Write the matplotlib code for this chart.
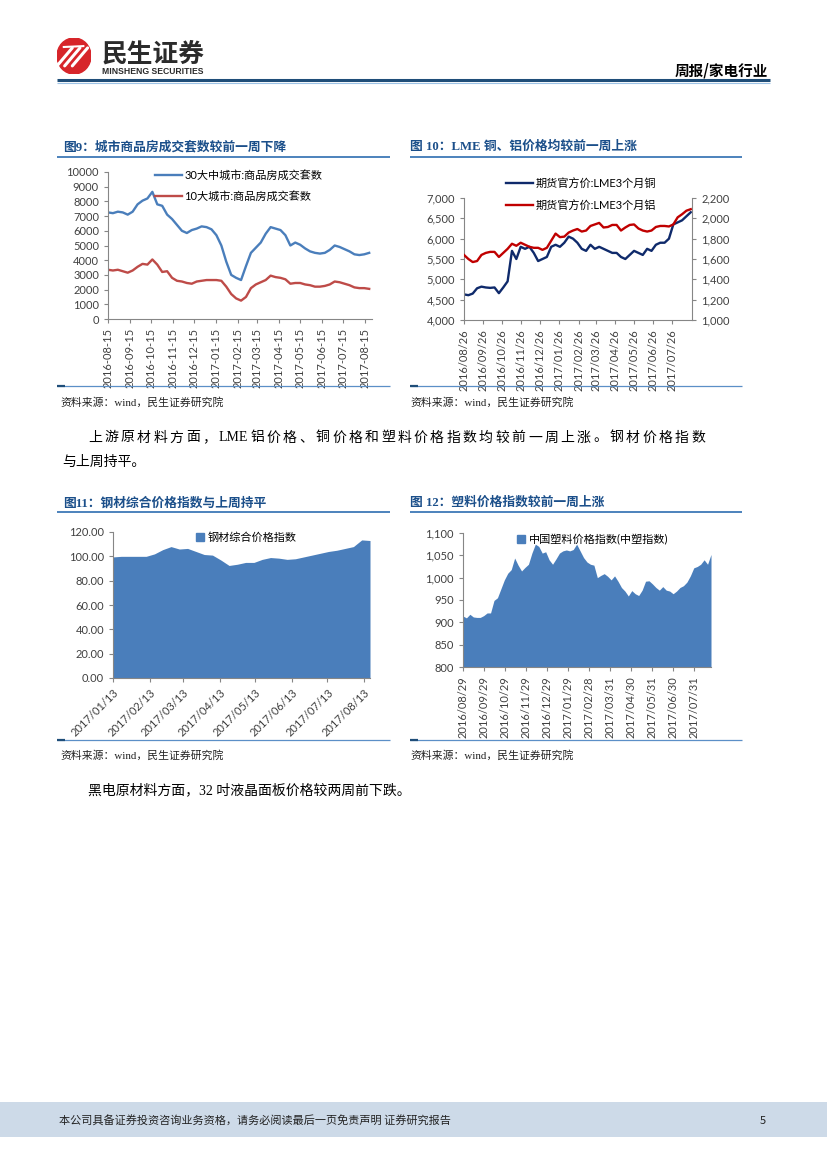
import matplotlib
matplotlib.use("Agg")
import matplotlib.pyplot as plt
import pandas as pd
from matplotlib.lines import Line2D
from matplotlib.patches import Rectangle, Ellipse, Patch
from matplotlib.ticker import FuncFormatter

# --- data: fig 9, weekly deals (sets) ---
city_dates = pd.date_range("2016-08-15", periods=54, freq="7D")
city30 = [7250, 7200, 7300, 7250, 7100, 7300, 7800, 8050, 8200, 8650,
          7800, 7700, 7100, 6800, 6400, 6000, 5850, 6050, 6150, 6300,
          6250, 6100, 5700, 5000, 3900, 3000, 2800, 2650, 3600, 4500,
          4850, 5200, 5800, 6250, 6150, 6050, 5700, 5000, 5200, 5050,
          4800, 4600, 4500, 4450, 4500, 4700, 5000, 4900, 4750, 4600,
          4400, 4350, 4400, 4500]
city10 = [3350, 3300, 3350, 3250, 3150, 3300, 3550, 3750, 3700, 4050,
          3700, 3200, 3250, 2800, 2600, 2550, 2450, 2400, 2550, 2600,
          2650, 2650, 2650, 2600, 2200, 1700, 1400, 1250, 1500, 2100,
          2350, 2500, 2650, 2950, 2850, 2800, 2700, 2400, 2450, 2450,
          2350, 2300, 2200, 2200, 2250, 2350, 2550, 2500, 2400, 2300,
          2150, 2100, 2100, 2050]
city_ticks = ["2016-08-15", "2016-09-15", "2016-10-15", "2016-11-15", "2016-12-15",
              "2017-01-15", "2017-02-15", "2017-03-15", "2017-04-15", "2017-05-15",
              "2017-06-15", "2017-07-15", "2017-08-15"]

# --- data: fig 10, LME copper / aluminium ---
lme_dates = pd.date_range("2016-08-26", periods=53, freq="7D")
copper = [4630, 4610, 4650, 4780, 4820, 4800, 4790, 4800, 4660, 4800,
          4950, 5700, 5500, 5800, 5750, 5800, 5650, 5450, 5500, 5550,
          5800, 5850, 5800, 5900, 6050, 6000, 5900, 5750, 5700, 5850,
          5750, 5800, 5750, 5700, 5650, 5650, 5550, 5500, 5600, 5700,
          5650, 5600, 5750, 5700, 5850, 5900, 5900, 6000, 6350, 6400,
          6450, 6550, 6650]
aluminium = [1640, 1600, 1570, 1580, 1640, 1660, 1670, 1670, 1620, 1660,
             1700, 1750, 1730, 1760, 1740, 1720, 1710, 1710, 1690, 1710,
             1780, 1850, 1815, 1820, 1860, 1880, 1895, 1870, 1880, 1925,
             1940, 1955, 1910, 1915, 1935, 1935, 1880, 1910, 1935, 1940,
             1900, 1880, 1870, 1880, 1915, 1925, 1925, 1920, 1940, 2010,
             2040, 2075, 2090]
lme_ticks = ["2016/08/26", "2016/09/26", "2016/10/26", "2016/11/26", "2016/12/26",
             "2017/01/26", "2017/02/26", "2017/03/26", "2017/04/26", "2017/05/26",
             "2017/06/26", "2017/07/26"]

# --- data: fig 11, steel index ---
steel_dates = pd.date_range("2017-01-13", periods=32, freq="7D")
steel = [99.5, 100, 100, 100, 100, 102, 105.5, 108, 106, 106.5,
         104, 101.5, 101, 97, 92.5, 93.5, 95, 95, 97.5, 99,
         98.5, 97.5, 98, 99.5, 101, 102.5, 104, 105, 106.5, 108,
         113.5, 113]
steel_ticks = ["2017/01/13", "2017/02/13", "2017/03/13", "2017/04/13",
               "2017/05/13", "2017/06/13", "2017/07/13", "2017/08/13"]

# --- data: fig 12, plastic index ---
plastic_dates = pd.date_range("2016-08-29", periods=73, freq="5D")
plastic = [914, 910, 918, 912, 911, 911, 915, 921, 921, 949,
           955, 975, 995, 1010, 1018, 1044, 1028, 1015, 1023, 1030,
           1055, 1075, 1070, 1055, 1058, 1040, 1030, 1042, 1055, 1060,
           1062, 1060, 1063, 1075, 1060, 1045, 1035, 1030, 1028, 1000,
           1005, 1009, 1003, 995, 1004, 992, 978, 970, 959, 971,
           964, 960, 972, 992, 993, 986, 978, 972, 980, 972,
           970, 964, 970, 978, 982, 990, 1004, 1022, 1025, 1030,
           1040, 1030, 1052]
plastic_ticks = ["2016/08/29", "2016/09/29", "2016/10/29", "2016/11/29", "2016/12/29",
                 "2017/01/29", "2017/02/28", "2017/03/31", "2017/04/30", "2017/05/31",
                 "2017/06/30", "2017/07/31"]

# --- page text ---
para1_tokens = ["上", "游", "原", "材", "料", "方", "面", "，", "LME", "铝", "价", "格", "、",
                "铜", "价", "格", "和", "塑", "料", "价", "格", "指", "数", "均", "较", "前",
                "一", "周", "上", "涨", "。", "钢", "材", "价", "格", "指", "数"]
para1_tail = "与上周持平。"
para2 = "黑电原材料方面，32 吋液晶面板价格较两周前下跌。"

W, H = 827, 1169
CJK = ["Noto Sans CJK SC", "DejaVu Sans"]
SERIF = ["Liberation Serif", "Noto Sans CJK SC"]
CHART = ["Lato", "Noto Sans CJK SC"]
TITLE_C = "#1B4F8A"
LINE_C = "#2E6DB0"
AXIS_C = "#868686"
TICK_C = "#404040"
AREA_C = "#4A7EBB"


def fx(x):
    return x / W


def fy(y):
    return 1 - y / H


def box(x0, y0, x1, y1):
    return [fx(x0), fy(y1), (x1 - x0) / W, (y1 - y0) / H]


def hline(fig, x0, x1, y, color, lw):
    fig.add_artist(Line2D([fx(x0), fx(x1)], [fy(y), fy(y)], transform=fig.transFigure,
                          color=color, lw=lw, solid_capstyle="butt"))


def style_axes(ax):
    for s in ["top", "right"]:
        ax.spines[s].set_visible(False)
    for s in ["left", "bottom"]:
        ax.spines[s].set_color(AXIS_C)
        ax.spines[s].set_linewidth(0.8)
    ax.tick_params(colors=AXIS_C, labelcolor=TICK_C, labelsize=8, length=3, width=0.8)
    for lab in ax.get_xticklabels() + ax.get_yticklabels():
        lab.set_family(CHART)


def justify(fig, tokens, x0, x1, y, size):
    # spread tokens evenly across the line like a justified paragraph
    r = fig.canvas.get_renderer()
    arts = [fig.text(0, fy(y), t, family=SERIF, fontsize=size, va="center", ha="left")
            for t in tokens]
    widths = [a.get_window_extent(r).width for a in arts]
    gap = (x1 - x0 - sum(widths)) / (len(tokens) - 1)
    x = x0
    for a, w in zip(arts, widths):
        a.set_x(fx(x))
        x += w + gap


fig = plt.figure(figsize=(W / 100, H / 100), dpi=100)

# --- header ---
logo = fig.add_axes(box(57, 38, 91, 74))
logo.set_xlim(-1, 1)
logo.set_ylim(-1, 1)
logo.axis("off")
logo.add_patch(Ellipse((0, 0), 2, 2, color="#D7252A"))
for dx in [-0.45, 0.0, 0.45]:
    logo.plot([-0.55 + dx, 0.35 + dx], [-0.55, 0.45], color="white", lw=2.2,
              solid_capstyle="round")
logo.plot([-0.6, 0.55], [0.5, 0.55], color="white", lw=1.5)
fig.text(fx(102), fy(54), "民生证券", family=CJK, fontsize=18.5, weight="bold",
         color="#2B2B2B", va="center", ha="left")
fig.text(fx(102), fy(71), "MINSHENG SECURITIES", family=["Liberation Sans"], fontsize=6.2,
         weight="bold", color="#2B2B2B", va="center", ha="left")
fig.text(fx(768), fy(70), "周报/家电行业", family=CJK, fontsize=10.5, weight="bold",
         color="black", va="center", ha="right")
hline(fig, 57, 770, 80, "#1F4E79", 2.2)
hline(fig, 57, 770, 82.5, "#9DC3E6", 0.8)

# --- panel frames ---
for (x0, x1) in [(57, 390), (410, 742)]:
    for y in [157, 512]:
        hline(fig, x0, x1, y, LINE_C, 1.2)
    for y in [386, 740]:
        hline(fig, x0, x1, y, "#5B8FC7", 0.9)
        hline(fig, x0, x0 + 8, y, "#1F4E79", 1.6)

titles = [(63, 147, "图9：城市商品房成交套数较前一周下降"),
          (410, 147, "图 10：LME 铜、铝价格均较前一周上涨"),
          (63, 503, "图11：钢材综合价格指数与上周持平"),
          (410, 503, "图 12：塑料价格指数较前一周上涨")]
for x, y, t in titles:
    fig.text(fx(x), fy(y), t, family=SERIF, fontsize=9.2, weight="bold",
             color=TITLE_C, va="center", ha="left")

for x, y in [(60, 402), (410, 402), (60, 755), (410, 755)]:
    fig.text(fx(x), fy(y), "资料来源：wind，民生证券研究院", family=SERIF, fontsize=7.8,
             color="#222222", va="center", ha="left")

# --- body text ---
justify(fig, para1_tokens, 88, 705, 438, 10)
fig.text(fx(62), fy(462), para1_tail, family=SERIF, fontsize=10, color="black",
         va="center", ha="left")
fig.text(fx(88), fy(790), para2, family=SERIF, fontsize=10, color="black",
         va="center", ha="left")

# --- footer ---
fig.add_artist(Rectangle((0, fy(1137)), 1, 35 / H, transform=fig.transFigure,
                         color="#CDDAE8", lw=0))
fig.text(fx(59), fy(1121), "本公司具备证券投资咨询业务资格，请务必阅读最后一页免责声明 证券研究报告",
         family=CJK, fontsize=8, color="#222222", va="center", ha="left")
fig.text(fx(763), fy(1121), "5", family=CJK, fontsize=8, color="#222222",
         va="center", ha="center")

# --- fig 9 ---
ax1 = fig.add_axes(box(108, 172, 372, 319))
ax1.plot(city_dates, city30, color="#4A7EBB", lw=1.7, label="30大中城市:商品房成交套数")
ax1.plot(city_dates, city10, color="#BE4B48", lw=1.7, label="10大城市:商品房成交套数")
ax1.set_ylim(0, 10000)
ax1.set_yticks(range(0, 10001, 1000))
ax1.set_xlim(pd.Timestamp("2016-08-15"), pd.Timestamp("2017-08-25"))
ax1.set_xticks(pd.to_datetime(city_ticks))
ax1.set_xticklabels(city_ticks, rotation=90)
style_axes(ax1)
ax1.legend(loc="upper left", bbox_to_anchor=(fx(155), fy(170)), bbox_transform=fig.transFigure,
           frameon=False, prop={"family": CHART, "size": 8}, handlelength=2.4,
           handletextpad=0.25, labelspacing=0.85, borderaxespad=0, borderpad=0)

# --- fig 10 ---
ax2 = fig.add_axes(box(464, 198, 692, 320))
ax2.plot(lme_dates, copper, color="#0F2A6B", lw=1.7)
ax2.set_ylim(4000, 7000)
ax2.set_yticks(range(4000, 7001, 500))
ax2.yaxis.set_major_formatter(FuncFormatter(lambda v, p: f"{int(v):,}"))
ax2.set_xlim(pd.Timestamp("2016-08-26"), pd.Timestamp("2017-08-27"))
ax2.set_xticks(pd.to_datetime(lme_ticks))
ax2.set_xticklabels(lme_ticks, rotation=90)
style_axes(ax2)
ax2b = ax2.twinx()
ax2b.plot(lme_dates, aluminium, color="#C00000", lw=1.7)
ax2b.set_ylim(1000, 2200)
ax2b.set_yticks(range(1000, 2201, 200))
ax2b.yaxis.set_major_formatter(FuncFormatter(lambda v, p: f"{int(v):,}"))
for s in ["top", "left", "bottom"]:
    ax2b.spines[s].set_visible(False)
ax2b.spines["right"].set_color(AXIS_C)
ax2b.spines["right"].set_linewidth(0.8)
ax2b.tick_params(colors=AXIS_C, labelcolor=TICK_C, labelsize=8, length=3, width=0.8)
for lab in ax2b.get_yticklabels():
    lab.set_family(CHART)
handles = [Line2D([], [], color="#0F2A6B", lw=1.7), Line2D([], [], color="#C00000", lw=1.7)]
ax2b.legend(handles, ["期货官方价:LME3个月铜", "期货官方价:LME3个月铝"], loc="upper left",
            bbox_to_anchor=(fx(506), fy(178)), bbox_transform=fig.transFigure,
            frameon=False, prop={"family": CHART, "size": 8}, handlelength=2.4,
            handletextpad=0.3, labelspacing=0.95, borderaxespad=0, borderpad=0)

# --- fig 11 ---
ax3 = fig.add_axes(box(113, 532, 370, 678))
ax3.fill_between(steel_dates, steel, 0, color=AREA_C, lw=0)
ax3.set_ylim(0, 120)
ax3.set_yticks(range(0, 121, 20))
ax3.yaxis.set_major_formatter(FuncFormatter(lambda v, p: f"{v:.2f}"))
ax3.set_xlim(steel_dates[0], steel_dates[-1])
ax3.set_xticks(pd.to_datetime(steel_ticks))
ax3.set_xticklabels(steel_ticks, rotation=45, ha="right", rotation_mode="anchor")
style_axes(ax3)
ax3.legend([Patch(color=AREA_C)], ["钢材综合价格指数"], loc="upper left",
           bbox_to_anchor=(fx(196), fy(532)), bbox_transform=fig.transFigure,
           frameon=False, prop={"family": CHART, "size": 8}, handlelength=0.7,
           handleheight=0.7, handletextpad=0.35, borderaxespad=0, borderpad=0)

# --- fig 12 ---
ax4 = fig.add_axes(box(463, 533, 711, 667))
ax4.fill_between(plastic_dates, plastic, 800, color=AREA_C, lw=0)
ax4.set_ylim(800, 1100)
ax4.set_yticks(range(800, 1101, 50))
ax4.yaxis.set_major_formatter(FuncFormatter(lambda v, p: f"{int(v):,}"))
ax4.set_xlim(plastic_dates[0], plastic_dates[-1])
ax4.set_xticks(pd.to_datetime(plastic_ticks))
ax4.set_xticklabels(plastic_ticks, rotation=90)
style_axes(ax4)
ax4.legend([Patch(color=AREA_C)], ["中国塑料价格指数(中塑指数)"], loc="upper left",
           bbox_to_anchor=(fx(517), fy(534)), bbox_transform=fig.transFigure,
           frameon=False, prop={"family": CHART, "size": 8}, handlelength=0.7,
           handleheight=0.7, handletextpad=0.35, borderaxespad=0, borderpad=0)

fig.savefig("out.png", dpi=100)
